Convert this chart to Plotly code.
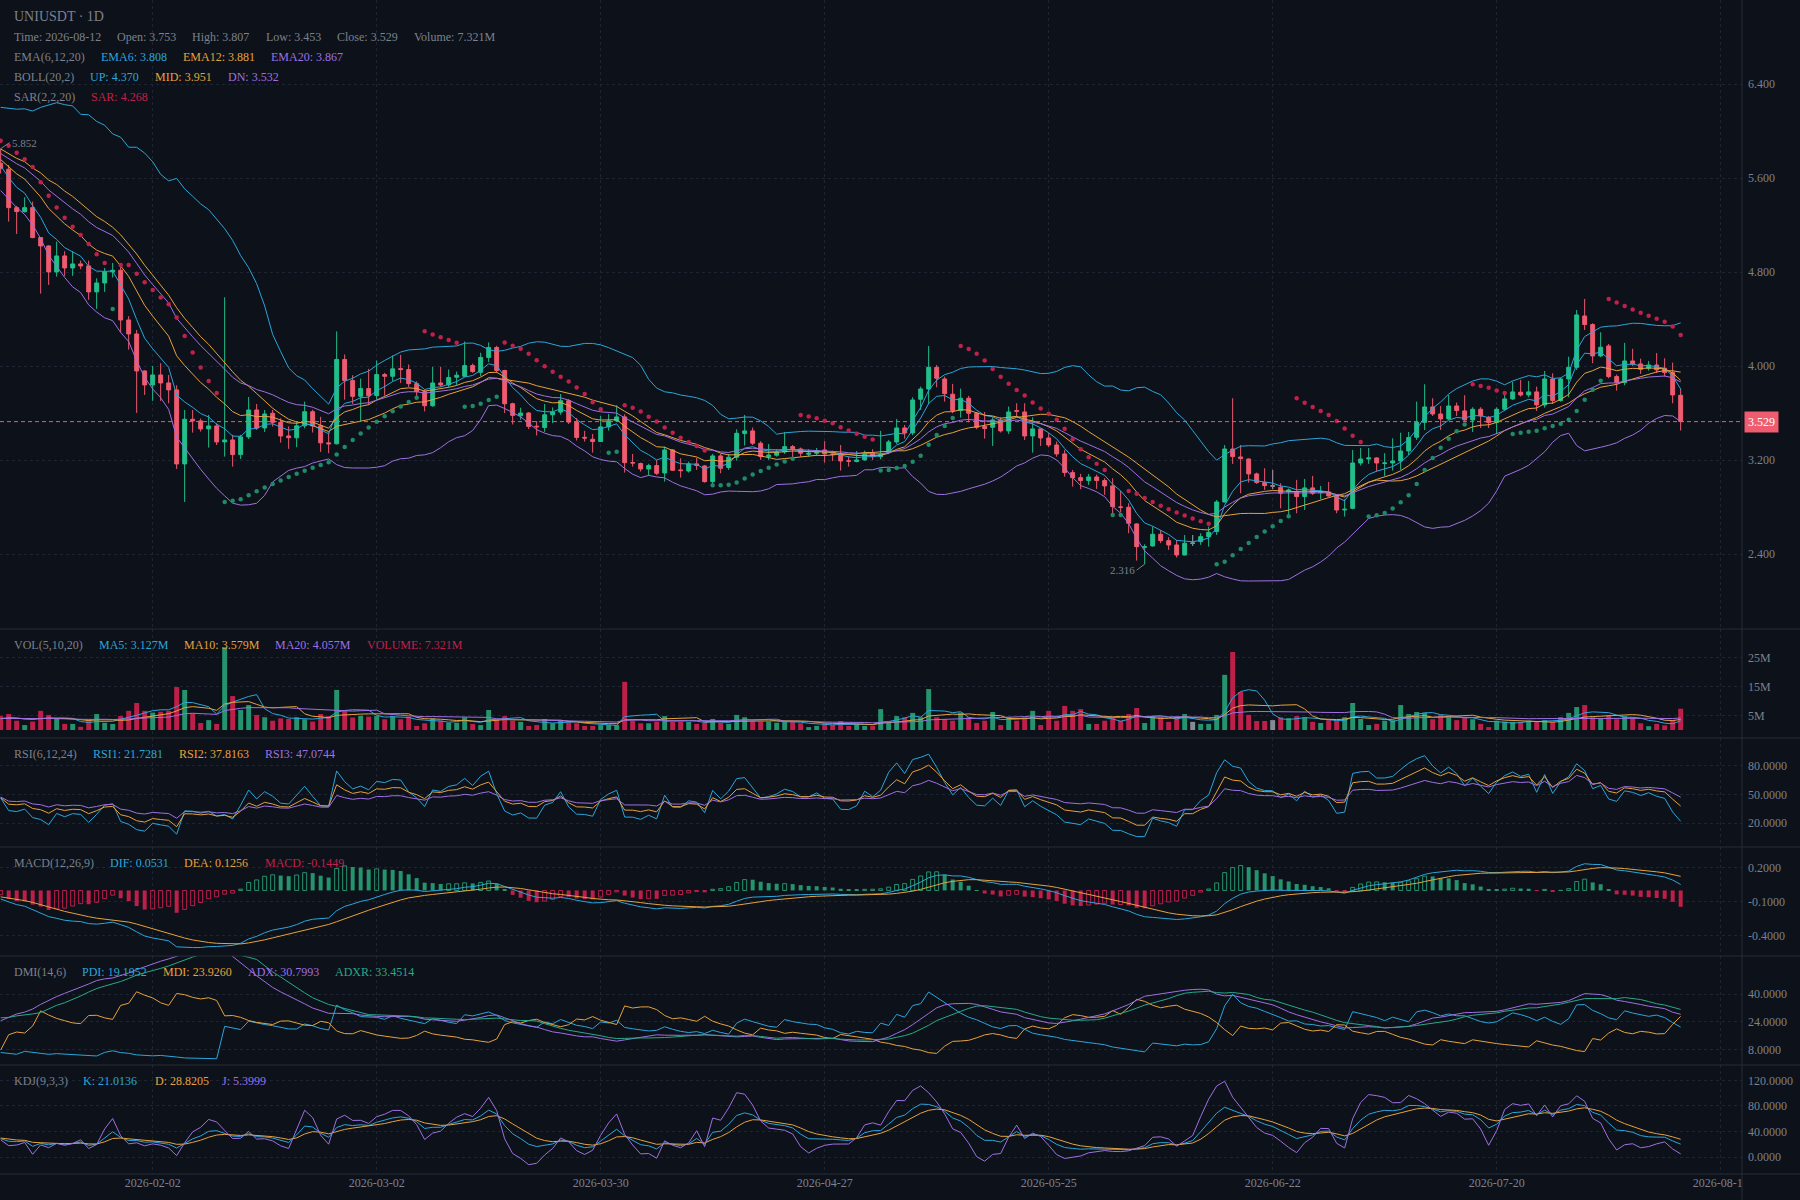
import numpy as np
import pandas as pd
import plotly.graph_objects as go
from plotly.subplots import make_subplots

# ---------------------------------------------------------------- data
first_day = "2025-12-15"          # first warm-up session (not visible)

# warm-up sessions before the visible window (feed the indicators only)
warm_open = [5.95, 5.90, 6.08, 5.86, 6.12, 5.94, 6.20, 5.98, 6.15, 5.92,
             6.22, 6.00, 6.16, 6.10, 5.92, 6.18, 5.85, 6.02, 5.70, 5.95,
             5.78, 6.05, 5.72, 5.88, 5.62, 5.80, 5.68, 5.90, 5.60, 5.75]
warm_high = [6.00, 6.13, 6.13, 6.17, 6.17, 6.25, 6.25, 6.20, 6.20, 6.27,
             6.27, 6.21, 6.21, 6.15, 6.23, 6.23, 6.07, 6.07, 6.00, 6.00,
             6.10, 6.10, 5.93, 5.93, 5.85, 5.85, 5.95, 5.95, 5.80, 5.80]
warm_low = [5.85, 5.85, 5.81, 5.81, 5.89, 5.89, 5.93, 5.93, 5.87, 5.87,
            5.95, 5.95, 6.05, 5.87, 5.87, 5.80, 5.80, 5.65, 5.65, 5.73,
            5.73, 5.67, 5.67, 5.57, 5.57, 5.63, 5.63, 5.55, 5.55, 5.59]
warm_close = [5.90, 6.08, 5.86, 6.12, 5.94, 6.20, 5.98, 6.15, 5.92, 6.22,
              6.00, 6.16, 6.10, 5.92, 6.18, 5.85, 6.02, 5.70, 5.95, 5.78,
              6.05, 5.72, 5.88, 5.62, 5.80, 5.68, 5.90, 5.60, 5.75, 5.64]
warm_volume_m = [3.6, 4.2, 2.8, 3.9, 5.1, 3.3, 4.6, 2.9, 3.8, 4.4,
                 3.1, 5.6, 4.0, 3.5, 4.8, 2.7, 3.9, 4.3, 3.2, 4.1,
                 3.7, 4.5, 3.0, 4.2, 3.6, 4.9, 3.4, 4.0, 3.3, 3.8]

# visible sessions 2026-01-14 .. 2026-08-12
open_ = [5.728,
 5.677, 5.350, 5.316, 5.350, 5.095, 5.024, 4.803, 4.939, 4.837, 4.871,
 4.854, 4.633, 4.709, 4.803, 4.817, 4.394, 4.275, 3.960, 3.841, 3.926,
 3.858, 3.799, 3.169, 3.549, 3.535, 3.467, 3.492, 3.356, 3.373, 3.248,
 3.399, 3.628, 3.475, 3.600, 3.523, 3.407, 3.391, 3.493, 3.613, 3.493,
 3.348, 3.340, 4.058, 3.878, 3.744, 3.810, 3.750, 3.929, 3.915, 3.980,
 3.972, 3.852, 3.784, 3.664, 3.858, 3.841, 3.907, 3.915, 4.006, 3.949,
 4.075, 4.160, 3.964, 3.681, 3.579, 3.602, 3.490, 3.479, 3.587, 3.610,
 3.707, 3.525, 3.395, 3.379, 3.359, 3.484, 3.535, 3.569, 3.180, 3.172,
 3.126, 3.155, 3.092, 3.288, 3.118, 3.109, 3.169, 3.152, 3.018, 3.237,
 3.138, 3.226, 3.427, 3.450, 3.345, 3.231, 3.243, 3.271, 3.316, 3.296,
 3.251, 3.260, 3.288, 3.254, 3.254, 3.196, 3.189, 3.203, 3.260, 3.231,
 3.274, 3.356, 3.475, 3.433, 3.719, 3.807, 3.991, 3.892, 3.762, 3.623,
 3.728, 3.600, 3.487, 3.481, 3.543, 3.450, 3.622, 3.611, 3.407, 3.467,
 3.390, 3.330, 3.254, 3.095, 3.052, 3.027, 3.058, 3.027, 2.982, 2.803,
 2.800, 2.658, 2.460, 2.471, 2.570, 2.516, 2.479, 2.394, 2.494, 2.508,
 2.550, 2.593, 2.845, 3.296, 3.228, 3.211, 3.084, 3.010, 2.982, 2.970,
 2.933, 2.931, 2.891, 2.965, 2.925, 2.930, 2.896, 2.777, 2.791, 3.177,
 3.211, 3.220, 3.172, 3.177, 3.194, 3.279, 3.396, 3.523, 3.654, 3.594,
 3.552, 3.662, 3.620, 3.543, 3.634, 3.566, 3.521, 3.634, 3.722, 3.779,
 3.756, 3.782, 3.671, 3.892, 3.708, 3.892, 3.991, 4.428, 4.355, 4.088,
 4.173, 3.912, 3.861, 4.045, 4.020, 3.983, 4.011, 3.983, 3.946, 3.753]

high = [5.852,
 5.713, 5.365, 5.438, 5.401, 5.100, 5.030, 5.061, 4.979, 4.979, 4.899,
 4.899, 4.749, 4.837, 4.879, 4.862, 4.426, 4.309, 3.965, 4.003, 4.026,
 3.926, 3.838, 3.628, 3.628, 3.555, 3.586, 3.515, 4.587, 3.416, 3.416,
 3.739, 3.679, 3.628, 3.628, 3.557, 3.488, 3.530, 3.699, 3.630, 3.570,
 3.436, 4.297, 4.100, 3.924, 3.895, 3.978, 4.049, 3.944, 4.092, 4.097,
 4.015, 3.872, 3.801, 3.995, 3.995, 3.972, 3.955, 4.211, 4.023, 4.115,
 4.203, 4.174, 3.970, 3.690, 3.647, 3.610, 3.533, 3.679, 3.650, 3.764,
 3.721, 3.560, 3.450, 3.424, 3.577, 3.594, 3.668, 3.591, 3.254, 3.180,
 3.170, 3.203, 3.316, 3.296, 3.217, 3.189, 3.220, 3.160, 3.254, 3.254,
 3.254, 3.464, 3.586, 3.478, 3.362, 3.339, 3.294, 3.441, 3.330, 3.308,
 3.294, 3.305, 3.362, 3.282, 3.330, 3.231, 3.279, 3.282, 3.294, 3.450,
 3.373, 3.552, 3.501, 3.736, 3.827, 4.173, 4.011, 3.912, 3.850, 3.810,
 3.748, 3.611, 3.611, 3.566, 3.566, 3.657, 3.685, 3.685, 3.566, 3.470,
 3.430, 3.359, 3.288, 3.118, 3.084, 3.084, 3.078, 3.047, 3.047, 2.939,
 2.834, 2.664, 2.485, 2.635, 2.607, 2.545, 2.522, 2.564, 2.564, 2.579,
 2.635, 2.862, 3.330, 3.728, 3.330, 3.215, 3.095, 3.132, 3.118, 3.004,
 2.960, 3.033, 3.041, 3.067, 2.982, 3.016, 2.905, 2.868, 3.288, 3.305,
 3.305, 3.225, 3.260, 3.387, 3.435, 3.441, 3.699, 3.847, 3.728, 3.662,
 3.756, 3.691, 3.753, 3.651, 3.651, 3.577, 3.651, 3.756, 3.870, 3.884,
 3.875, 3.827, 3.960, 3.940, 3.904, 4.082, 4.479, 4.573, 4.366, 4.289,
 4.190, 3.929, 4.199, 4.148, 4.065, 4.045, 4.113, 4.068, 4.031, 3.807]

low = [5.640,
 5.231, 5.126, 5.308, 5.090, 4.618, 4.692, 4.763, 4.769, 4.769, 4.826,
 4.565, 4.488, 4.633, 4.755, 4.287, 4.142, 3.603, 3.756, 3.705, 3.705,
 3.685, 3.126, 2.845, 3.435, 3.444, 3.308, 3.330, 3.231, 3.146, 3.211,
 3.382, 3.458, 3.441, 3.487, 3.350, 3.297, 3.311, 3.471, 3.436, 3.271,
 3.260, 3.335, 3.716, 3.679, 3.530, 3.670, 3.716, 3.750, 3.872, 3.858,
 3.824, 3.744, 3.616, 3.655, 3.824, 3.824, 3.841, 3.907, 3.944, 3.915,
 4.035, 3.944, 3.602, 3.505, 3.545, 3.465, 3.411, 3.442, 3.516, 3.587,
 3.508, 3.368, 3.359, 3.265, 3.355, 3.452, 3.530, 3.095, 3.146, 3.104,
 3.070, 3.075, 3.018, 3.109, 3.052, 3.095, 3.118, 3.010, 2.987, 3.089,
 3.118, 3.197, 3.325, 3.330, 3.203, 3.203, 3.231, 3.254, 3.220, 3.231,
 3.231, 3.237, 3.180, 3.194, 3.112, 3.146, 3.183, 3.198, 3.203, 3.208,
 3.254, 3.339, 3.384, 3.413, 3.628, 3.679, 3.821, 3.699, 3.600, 3.563,
 3.523, 3.464, 3.384, 3.322, 3.436, 3.424, 3.572, 3.373, 3.265, 3.322,
 3.311, 3.231, 3.061, 2.976, 2.953, 2.990, 2.956, 2.905, 2.735, 2.757,
 2.579, 2.346, 2.316, 2.465, 2.494, 2.437, 2.372, 2.390, 2.471, 2.480,
 2.465, 2.565, 2.840, 3.169, 2.919, 3.010, 2.999, 2.948, 2.953, 2.791,
 2.726, 2.749, 2.777, 2.905, 2.868, 2.891, 2.749, 2.721, 2.783, 3.155,
 3.169, 3.104, 3.067, 3.112, 3.118, 3.245, 3.373, 3.458, 3.577, 3.458,
 3.543, 3.577, 3.532, 3.441, 3.475, 3.475, 3.424, 3.623, 3.713, 3.742,
 3.736, 3.620, 3.648, 3.679, 3.699, 3.736, 3.969, 4.309, 4.026, 4.077,
 3.898, 3.793, 3.838, 4.003, 3.935, 3.963, 3.943, 3.912, 3.685, 3.453]

close = [5.685,
 5.350, 5.316, 5.350, 5.095, 5.024, 4.803, 4.939, 4.837, 4.871, 4.854,
 4.633, 4.709, 4.803, 4.817, 4.394, 4.275, 3.960, 3.841, 3.926, 3.858,
 3.799, 3.169, 3.549, 3.535, 3.467, 3.492, 3.356, 3.373, 3.248, 3.399,
 3.628, 3.475, 3.594, 3.523, 3.407, 3.392, 3.493, 3.613, 3.493, 3.348,
 3.340, 4.058, 3.878, 3.744, 3.810, 3.750, 3.929, 3.915, 3.978, 3.972,
 3.852, 3.784, 3.664, 3.858, 3.841, 3.904, 3.924, 4.006, 3.955, 4.075,
 4.160, 3.964, 3.681, 3.582, 3.602, 3.488, 3.485, 3.587, 3.610, 3.707,
 3.525, 3.394, 3.389, 3.359, 3.484, 3.535, 3.569, 3.180, 3.177, 3.126,
 3.155, 3.089, 3.288, 3.115, 3.112, 3.169, 3.155, 3.018, 3.237, 3.132,
 3.226, 3.430, 3.450, 3.345, 3.231, 3.245, 3.271, 3.316, 3.299, 3.260,
 3.260, 3.282, 3.254, 3.250, 3.194, 3.192, 3.203, 3.251, 3.231, 3.254,
 3.356, 3.475, 3.433, 3.713, 3.807, 3.991, 3.898, 3.767, 3.623, 3.728,
 3.600, 3.481, 3.470, 3.543, 3.450, 3.611, 3.617, 3.407, 3.467, 3.390,
 3.330, 3.254, 3.095, 3.052, 3.027, 3.058, 3.027, 2.982, 2.806, 2.800,
 2.664, 2.465, 2.463, 2.570, 2.516, 2.479, 2.394, 2.494, 2.494, 2.550,
 2.587, 2.845, 3.296, 3.231, 3.214, 3.084, 3.010, 2.984, 2.982, 2.919,
 2.948, 2.891, 2.965, 2.919, 2.933, 2.896, 2.777, 2.783, 3.177, 3.211,
 3.220, 3.177, 3.177, 3.194, 3.279, 3.393, 3.523, 3.654, 3.594, 3.552,
 3.662, 3.623, 3.543, 3.634, 3.577, 3.521, 3.634, 3.722, 3.782, 3.756,
 3.782, 3.671, 3.892, 3.708, 3.892, 3.991, 4.437, 4.355, 4.088, 4.162,
 3.912, 3.861, 4.045, 4.020, 3.974, 4.011, 3.969, 3.946, 3.756, 3.529]

volume_m = [4.8,
 5.5, 3.2, 1.7, 2.9, 6.6, 5.2, 4.0, 2.1, 2.1, 1.1,
 3.7, 5.5, 2.5, 2.1, 4.8, 6.6, 9.3, 6.6, 6.0, 6.3,
 6.6, 14.8, 13.8, 5.7, 2.4, 3.4, 2.1, 28.5, 11.7, 6.9,
 8.6, 5.2, 4.4, 3.2, 4.0, 3.8, 4.4, 3.7, 2.9, 5.5,
 4.8, 13.8, 6.6, 4.3, 4.9, 4.6, 4.8, 3.7, 4.8, 3.7,
 4.6, 1.4, 2.3, 4.0, 3.2, 2.5, 2.5, 4.4, 2.1, 1.7,
 6.9, 3.7, 4.8, 3.2, 2.8, 1.4, 1.7, 3.8, 2.3, 3.2,
 2.5, 2.3, 1.4, 1.4, 1.7, 1.7, 1.7, 16.6, 3.2, 2.3,
 2.3, 2.8, 4.8, 2.8, 2.8, 2.8, 2.1, 2.5, 3.8, 2.5,
 2.1, 5.2, 4.4, 2.9, 2.9, 2.9, 2.5, 2.9, 2.9, 2.3,
 1.0, 1.4, 2.3, 1.8, 3.1, 1.4, 2.1, 1.4, 1.4, 7.2,
 2.5, 4.8, 4.4, 5.9, 4.4, 14.1, 4.4, 3.8, 3.2, 6.0,
 4.4, 2.4, 3.2, 6.2, 1.7, 4.4, 3.2, 4.4, 6.6, 1.7,
 6.6, 3.2, 8.3, 6.6, 7.2, 2.1, 2.1, 3.2, 4.4, 3.2,
 5.5, 7.6, 2.4, 4.8, 4.4, 2.8, 4.4, 5.5, 2.8, 2.1,
 2.1, 5.2, 19.0, 26.9, 13.1, 5.2, 3.1, 3.1, 3.4, 4.4,
 4.1, 4.8, 4.4, 2.8, 2.4, 3.4, 3.2, 4.4, 9.3, 3.8,
 1.7, 2.1, 3.2, 3.4, 8.6, 5.5, 6.2, 5.9, 3.7, 5.2,
 4.4, 3.4, 4.4, 3.7, 2.1, 1.0, 3.2, 2.9, 2.8, 2.8,
 3.2, 2.8, 3.4, 2.8, 4.4, 5.9, 7.9, 8.6, 4.4, 3.8,
 5.2, 3.7, 4.8, 4.4, 2.3, 1.3, 2.1, 1.6, 3.4, 7.321]

# axis ticks
x_tick_dates = ["2026-02-02", "2026-03-02", "2026-03-30", "2026-04-27",
                "2026-05-25", "2026-06-22", "2026-07-20", "2026-08-17"]
x_tick_text = ["2026-02-02", "2026-03-02", "2026-03-30", "2026-04-27",
               "2026-05-25", "2026-06-22", "2026-07-20", "2026-08-17"]
price_ticks = [2.4, 3.2, 4.0, 4.8, 5.6, 6.4]
price_tick_text = ["2.400", "3.200", "4.000", "4.800", "5.600", "6.400"]
vol_ticks = [5e6, 15e6, 25e6]
vol_tick_text = ["5M", "15M", "25M"]
rsi_ticks = [20, 50, 80]
rsi_tick_text = ["20.0000", "50.0000", "80.0000"]
macd_ticks = [-0.4, -0.1, 0.2]
macd_tick_text = ["-0.4000", "-0.1000", "0.2000"]
dmi_ticks = [8, 24, 40]
dmi_tick_text = ["8.0000", "24.0000", "40.0000"]
kdj_ticks = [0, 40, 80, 120]
kdj_tick_text = ["0.0000", "40.0000", "80.0000", "120.0000"]

# ---------------------------------------------------------------- style
W, H = 1800, 1200
PLOT_W, PLOT_H = 1742, 1174
BG = "#0d1119"
GRID = "#1e2431"
SEP = "#272c37"
AXT = "#7b818d"
UP = "#22bf8b"
DOWN = "#ef5b6f"
UP_VOL = "#25936d"
DOWN_VOL = "#bd1f48"
NEUTRAL = "#858b96"
BLUE = "#2aa6dc"
ORANGE = "#e6a23c"
PURPLE = "#9e70e4"
TEAL = "#28a98a"
CRIMSON = "#c0214c"
SAR_GREEN = "#1f8a67"
FONT = "Liberation Serif"

# ---------------------------------------------------------------- indicators
o = pd.Series(warm_open + open_, dtype=float)
h = pd.Series(warm_high + high, dtype=float)
l = pd.Series(warm_low + low, dtype=float)
c = pd.Series(warm_close + close, dtype=float)
v = pd.Series(warm_volume_m + volume_m, dtype=float) * 1e6
dates_all = pd.date_range(first_day, periods=len(c), freq="D")
NW = len(warm_close)


def ema(s, n):
    return s.ewm(span=n, adjust=False).mean()


def sma_cn(s, n):
    return s.ewm(alpha=1.0 / n, adjust=False).mean()


ema6, ema12, ema20 = ema(c, 6), ema(c, 12), ema(c, 20)
mid = c.rolling(20, min_periods=1).mean()
std = c.rolling(20, min_periods=1).std(ddof=0)
boll_up, boll_dn = mid + 2 * std, mid - 2 * std

vma5 = v.rolling(5, min_periods=1).mean()
vma10 = v.rolling(10, min_periods=1).mean()
vma20 = v.rolling(20, min_periods=1).mean()

diff = c.diff().fillna(0)
upm, dnm = diff.clip(lower=0), (-diff).clip(lower=0)


def rsi(n):
    a, b = sma_cn(upm, n), sma_cn(dnm, n)
    return (a / (a + b).replace(0, np.nan) * 100).fillna(50)


rsi1, rsi2, rsi3 = rsi(6), rsi(12), rsi(24)

dif = ema(c, 12) - ema(c, 26)
dea = ema(dif, 9)
macd = (dif - dea) * 2

pc, ph, pl = c.shift(1), h.shift(1), l.shift(1)
tr = pd.concat([h - l, (h - pc).abs(), (l - pc).abs()], axis=1).max(axis=1)
hd, ld = h - ph, pl - l
dmp = pd.Series(np.where((hd > 0) & (hd > ld), hd, 0.0))
dmm = pd.Series(np.where((ld > 0) & (ld > hd), ld, 0.0))
atr = sma_cn(tr, 14)
pdi = sma_cn(dmp, 14) / atr * 100
mdi = sma_cn(dmm, 14) / atr * 100
dx = ((mdi - pdi).abs() / (mdi + pdi).replace(0, np.nan) * 100).fillna(0)
adx = sma_cn(dx, 14)
adxr = (adx + adx.shift(5).bfill()) / 2

lown = l.rolling(9, min_periods=1).min()
highn = h.rolling(9, min_periods=1).max()
rsv = ((c - lown) / (highn - lown).replace(0, np.nan) * 100).fillna(50)
kk, dd = [], []
kp, dp = 50.0, 50.0
for r in rsv:
    kp = (2 * kp + r) / 3
    dp = (2 * dp + kp) / 3
    kk.append(kp)
    dd.append(dp)
kdj_k, kdj_d = pd.Series(kk), pd.Series(dd)
kdj_j = 3 * kdj_k - 2 * kdj_d


def calc_sar(hh, ll, start=0.02, step=0.02, afmax=0.2):
    """Parabolic SAR; the extreme point is re-armed the bar after a reversal."""
    out = []
    af, ep, rising, s = start, None, False, 0.0
    for i in range(len(hh)):
        prev_s = s
        hi, lo = hh[i], ll[i]
        j = max(1, i) - 1
        if rising:
            if ep is None or ep < hi:
                ep, af = hi, min(af + step, afmax)
            s = prev_s + af * (ep - prev_s)
            low_min = min(ll[j], lo)
            if s > lo:
                s, af, ep, rising = ep, start, None, False
            elif s > low_min:
                s = low_min
        else:
            if ep is None or ep > lo:
                ep, af = lo, min(af + step, afmax)
            s = prev_s + af * (ep - prev_s)
            high_max = max(hh[j], hi)
            if s < hi:
                s, af, ep, rising = ep, 0.0, None, True
            elif s < high_max:
                s = high_max
        out.append(s)
    return np.array(out)


sar = pd.Series(calc_sar(h.values, l.values))

# visible part
vs = slice(NW, None)
X = dates_all[NW:]


def vis(s):
    return np.asarray(s)[vs]


# ---------------------------------------------------------------- figure
fig = make_subplots(rows=6, cols=1, shared_xaxes=True, vertical_spacing=0,
                    row_heights=[629, 109, 109, 109, 109, 109])

fig.add_trace(go.Candlestick(
    x=X, open=open_, high=high, low=low, close=close,
    increasing=dict(line=dict(color=UP, width=1), fillcolor=UP),
    decreasing=dict(line=dict(color=DOWN, width=1), fillcolor=DOWN),
    whiskerwidth=0, showlegend=False), row=1, col=1)

doji = [i for i in range(len(close)) if open_[i] == close[i]]
if doji:
    fig.add_trace(go.Candlestick(
        x=[X[i] for i in doji], open=[open_[i] for i in doji],
        high=[high[i] for i in doji], low=[low[i] for i in doji],
        close=[close[i] for i in doji],
        increasing=dict(line=dict(color=NEUTRAL, width=1), fillcolor=NEUTRAL),
        decreasing=dict(line=dict(color=NEUTRAL, width=1), fillcolor=NEUTRAL),
        whiskerwidth=0, showlegend=False), row=1, col=1)


def line(y, color, row, width=1):
    fig.add_trace(go.Scatter(x=X, y=vis(y), mode="lines",
                             line=dict(color=color, width=width),
                             showlegend=False), row=row, col=1)


for s, col in [(boll_up, BLUE), (mid, ORANGE), (boll_dn, PURPLE),
               (ema6, BLUE), (ema12, ORANGE), (ema20, PURPLE)]:
    line(s, col, 1)

sar_v = vis(sar)
mid_hl = (np.array(high) + np.array(low)) / 2
sar_colors = [SAR_GREEN if sv < m else CRIMSON for sv, m in zip(sar_v, mid_hl)]
fig.add_trace(go.Scatter(x=X, y=sar_v, mode="markers",
                         marker=dict(size=4.5, color=sar_colors),
                         showlegend=False), row=1, col=1)

# volume
vol_colors = [UP_VOL if cc > oo else (DOWN_VOL if cc < oo else NEUTRAL)
              for oo, cc in zip(open_, close)]
DAY = 86400000
fig.add_trace(go.Bar(x=X, y=vis(v), marker=dict(color=vol_colors, line=dict(width=0)),
                     width=0.62 * DAY, showlegend=False), row=2, col=1)
for s, col in [(vma5, BLUE), (vma10, ORANGE), (vma20, PURPLE)]:
    line(s, col, 2)

# RSI
for s, col in [(rsi1, BLUE), (rsi2, ORANGE), (rsi3, PURPLE)]:
    line(s, col, 3)

# MACD
mv = np.asarray(macd)
prev = np.concatenate([[mv[0]], mv[:-1]])
mv_vis, prev_vis = mv[vs], prev[vs]
col_m = [UP_VOL if m > 0 else DOWN_VOL for m in mv_vis]
rising_m = mv_vis > prev_vis
fig.add_trace(go.Bar(x=X[~rising_m], y=mv_vis[~rising_m],
                     marker=dict(color=[c_ for c_, r_ in zip(col_m, rising_m) if not r_],
                                 line=dict(width=0)),
                     width=0.5 * DAY, showlegend=False), row=4, col=1)
fig.add_trace(go.Bar(x=X[rising_m], y=mv_vis[rising_m],
                     marker=dict(color="rgba(0,0,0,0)",
                                 line=dict(width=1, color=[c_ for c_, r_ in zip(col_m, rising_m) if r_])),
                     width=0.5 * DAY, showlegend=False), row=4, col=1)
line(dif, BLUE, 4)
line(dea, ORANGE, 4)

# DMI
for s, col in [(pdi, BLUE), (mdi, ORANGE), (adx, PURPLE), (adxr, TEAL)]:
    line(s, col, 5)

# KDJ
for s, col in [(kdj_k, BLUE), (kdj_d, ORANGE), (kdj_j, PURPLE)]:
    line(s, col, 6)

# ---------------------------------------------------------------- axes
x_range = ["2026-01-13 22:00", "2026-08-19 16:00"]
for r in range(1, 7):
    fig.update_xaxes(row=r, col=1, range=x_range, tickvals=x_tick_dates,
                     ticktext=x_tick_text, showgrid=True, gridcolor=GRID,
                     griddash="3px,3px", gridwidth=1, zeroline=False,
                     showline=False, ticks="", showticklabels=(r == 6),
                     tickfont=dict(family=FONT, size=12, color=AXT),
                     rangeslider=dict(visible=False))

y_specs = [
    (1, [1.764, 7.117], price_ticks, price_tick_text),
    (2, [-2.76e6, 34.8e6], vol_ticks, vol_tick_text),
    (3, [-5.0, 108.9], rsi_ticks, rsi_tick_text),
    (4, [-0.581, 0.385], macd_ticks, macd_tick_text),
    (5, [-1.1, 62.2], dmi_ticks, dmi_tick_text),
    (6, [-26.2, 143.9], kdj_ticks, kdj_tick_text),
]
for r, rng, tv, tt in y_specs:
    fig.update_yaxes(row=r, col=1, side="right", range=rng, tickvals=tv,
                     ticktext=tt, showgrid=True, gridcolor=GRID,
                     griddash="3px,3px", gridwidth=1, zeroline=False,
                     showline=False, ticks="", ticklabelstandoff=5,
                     tickfont=dict(family=FONT, size=12, color=AXT),
                     fixedrange=True)

# ---------------------------------------------------------------- shapes
shapes = []
last_close = close[-1]
shapes.append(dict(type="line", xref="paper", yref="y", x0=0, x1=1,
                   y0=last_close, y1=last_close,
                   line=dict(color=DOWN, width=1, dash="4px,3px")))
# cover for the x-label running into the price-scale column
shapes.append(dict(type="rect", xref="paper", yref="paper", x0=1.0, x1=W / PLOT_W,
                   y0=-26 / PLOT_H, y1=-0.001, fillcolor=BG, line=dict(width=0),
                   layer="above"))
for yr in [629, 738, 847, 956, 1065, 1174]:
    yp = 1 - yr / PLOT_H
    shapes.append(dict(type="line", xref="paper", yref="paper", x0=0,
                       x1=W / PLOT_W, y0=yp, y1=yp,
                       line=dict(color=SEP, width=1), layer="above"))
shapes.append(dict(type="line", xref="paper", yref="paper", x0=1, x1=1,
                   y0=-26 / PLOT_H, y1=1, line=dict(color=SEP, width=1),
                   layer="above"))

# ---------------------------------------------------------------- annotations
ann = []


def txt(s, color, xr, yr, size=12):
    ann.append(dict(xref="paper", yref="paper", x=xr / PLOT_W, y=1 - yr / PLOT_H,
                    text=s, showarrow=False, xanchor="left", yanchor="middle",
                    font=dict(family=FONT, size=size, color=color)))


txt("UNIUSDT · 1D", AXT, 11.5, 16, 14)
for s, xr in [("Time: 2026-08-12", 11.5), ("Open: 3.753", 115), ("High: 3.807", 190),
              ("Low: 3.453", 263.5), ("Close: 3.529", 334.5), ("Volume: 7.321M", 412)]:
    txt(s, AXT, xr, 36.7)
for s, col, xr in [("EMA(6,12,20)", AXT, 11.5), ("EMA6: 3.808", BLUE, 98.5),
                   ("EMA12: 3.881", ORANGE, 180.5), ("EMA20: 3.867", PURPLE, 268.5)]:
    txt(s, col, xr, 57.3)
for s, col, xr in [("BOLL(20,2)", AXT, 11.5), ("UP: 4.370", BLUE, 88),
                   ("MID: 3.951", ORANGE, 152.5), ("DN: 3.532", PURPLE, 225.5)]:
    txt(s, col, xr, 77.3)
for s, col, xr in [("SAR(2,2,20)", AXT, 11.5), ("SAR: 4.268", CRIMSON, 88.5)]:
    txt(s, col, xr, 97.3)

for s, col, xr in [("VOL(5,10,20)", AXT, 11.5), ("MA5: 3.127M", BLUE, 96.5),
                   ("MA10: 3.579M", ORANGE, 181.5), ("MA20: 4.057M", PURPLE, 272.5),
                   ("VOLUME: 7.321M", CRIMSON, 365)]:
    txt(s, col, xr, 645)
for s, col, xr in [("RSI(6,12,24)", AXT, 11.5), ("RSI1: 21.7281", BLUE, 90.5),
                   ("RSI2: 37.8163", ORANGE, 176.5), ("RSI3: 47.0744", PURPLE, 262.5)]:
    txt(s, col, xr, 753.5)
for s, col, xr in [("MACD(12,26,9)", AXT, 11.5), ("DIF: 0.0531", BLUE, 107.5),
                   ("DEA: 0.1256", ORANGE, 182), ("MACD: -0.1449", CRIMSON, 262.5)]:
    txt(s, col, xr, 862.5)
for s, col, xr in [("DMI(14,6)", AXT, 11.5), ("PDI: 19.1952", BLUE, 80),
                   ("MDI: 23.9260", ORANGE, 160.5), ("ADX: 30.7993", PURPLE, 245.5),
                   ("ADXR: 33.4514", TEAL, 332.5)]:
    txt(s, col, xr, 971.5)
for s, col, xr in [("KDJ(9,3,3)", AXT, 11.5), ("K: 21.0136", BLUE, 81),
                   ("D: 28.8205", ORANGE, 152.5), ("J: 5.3999", PURPLE, 220)]:
    txt(s, col, xr, 1080.5)

# max / min marks
imax = int(np.argmax(high))
imin = int(np.argmin(low))
ann.append(dict(xref="x", yref="y", x=X[imax], y=high[imax], text=f"{high[imax]:.3f}",
                showarrow=True, arrowhead=0, arrowwidth=1, arrowcolor=AXT,
                ax=9, ay=-6, xanchor="left", yanchor="middle",
                font=dict(family=FONT, size=11, color=AXT)))
ann.append(dict(xref="x", yref="y", x=X[imin], y=low[imin], text=f"{low[imin]:.3f}",
                showarrow=True, arrowhead=0, arrowwidth=1, arrowcolor=AXT,
                ax=-8, ay=6, xanchor="right", yanchor="middle",
                font=dict(family=FONT, size=11, color=AXT)))

# last price tag on the price scale
ann.append(dict(xref="paper", yref="y", x=1, y=last_close, text=f"{last_close:.3f}",
                showarrow=False, xanchor="left", yanchor="middle", xshift=2,
                bgcolor=DOWN, borderpad=3,
                font=dict(family=FONT, size=12, color="#ffffff")))

fig.update_layout(
    width=W, height=H, margin=dict(l=0, r=W - PLOT_W, t=0, b=H - PLOT_H),
    paper_bgcolor=BG, plot_bgcolor=BG, showlegend=False, hovermode=False,
    barmode="overlay", boxgap=0.3, shapes=shapes, annotations=ann,
    font=dict(family=FONT, color=AXT),
)

fig.write_html("out.html",
               config={"displayModeBar": False},
               post_script="document.body.style.margin='0';"
                           "document.body.style.background='" + BG + "';")
